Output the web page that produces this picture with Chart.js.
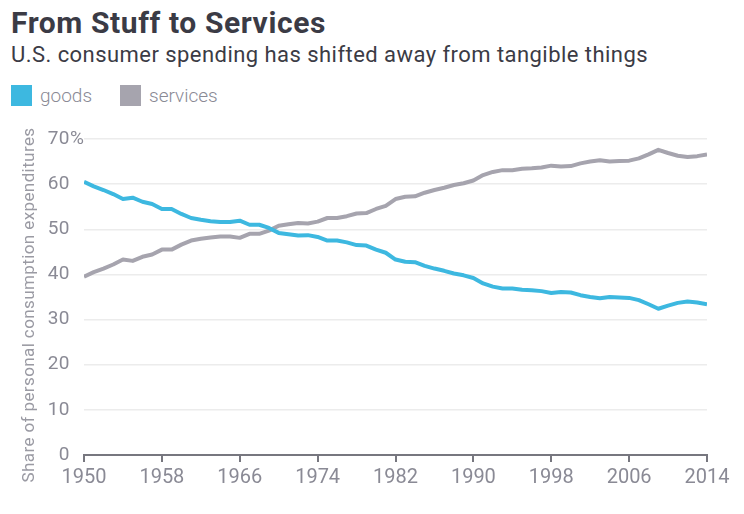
<!DOCTYPE html>
<html>
<head>
<meta charset="utf-8">
<script src="https://cdn.jsdelivr.net/npm/chart.js@4"></script>
<style>
    html, body { margin: 0; padding: 0; background: #fff; }
    body { width: 744px; height: 514px; position: relative; overflow: hidden; font-family: Roboto, "Open Sans", sans-serif; }
    #title { position: absolute; left: 11px; top: 5px; font-size: 30px; font-weight: 700; color: #3b3b45; white-space: nowrap; letter-spacing: 0.6px; }
    #subtitle { position: absolute; left: 11px; top: 42px; font-size: 22px; color: #3b3b45; white-space: nowrap; letter-spacing: 0.45px; }
    #legend { position: absolute; left: 11px; top: 84px; font-size: 19px; color: #8a8a95; font-weight: 300; }
    .item { display: inline-flex; align-items: center; margin-right: 28px; }
    .swatch { width: 21px; height: 21px; display: inline-block; margin-right: 8px; }
    #wrap { position: absolute; left: 0; top: 0; width: 744px; height: 514px; }
</style>
</head>
<body>
<div id="title">From Stuff to Services</div>
<div id="subtitle">U.S. consumer spending has shifted away from tangible things</div>
<div id="legend"></div>
<div id="wrap"><canvas id="chart" width="744" height="514"></canvas></div>
<script>
// Years on the x axis
const years = [];
for (let y = 1950; y <= 2014; y++) years.push(y);

// Share of personal consumption expenditures (%)
const goods = [
    60.5, 59.5, 58.7, 57.8, 56.7, 57.0, 56.1, 55.6, 54.5, 54.5,
    53.4, 52.5, 52.1, 51.8, 51.6, 51.6, 51.9, 51.0, 51.0, 50.3,
    49.2, 48.9, 48.6, 48.7, 48.3, 47.5, 47.5, 47.1, 46.5, 46.4,
    45.5, 44.8, 43.3, 42.8, 42.7, 41.9, 41.3, 40.8, 40.2, 39.8,
    39.2, 38.0, 37.3, 36.9, 36.9, 36.6, 36.5, 36.3, 35.9, 36.1,
    36.0, 35.4, 35.0, 34.7, 35.0, 34.9, 34.8, 34.3, 33.4, 32.4,
    33.1, 33.7, 34.0, 33.8, 33.4
];
const services = [
    39.5, 40.5, 41.3, 42.2, 43.3, 43.0, 43.9, 44.4, 45.5, 45.5,
    46.6, 47.5, 47.9, 48.2, 48.4, 48.4, 48.1, 49.0, 49.0, 49.7,
    50.8, 51.1, 51.4, 51.3, 51.7, 52.5, 52.5, 52.9, 53.5, 53.6,
    54.5, 55.2, 56.7, 57.2, 57.3, 58.1, 58.7, 59.2, 59.8, 60.2,
    60.8, 62.0, 62.7, 63.1, 63.1, 63.4, 63.5, 63.7, 64.1, 63.9,
    64.0, 64.6, 65.0, 65.3, 65.0, 65.1, 65.2, 65.7, 66.6, 67.6,
    66.9, 66.3, 66.0, 66.2, 66.6
];

// Axis ticks
const xTicks = [1950, 1958, 1966, 1974, 1982, 1990, 1998, 2006, 2014];
const yTicks = [0, 10, 20, 30, 40, 50, 60, 70];
const yTitle = 'Share of personal consumption expenditures';

const seriesNames = ['goods', 'services'];
const seriesColors = ['#3db8e0', '#a6a4ae'];
const tickColor = '#8a8a95';
const tickFont = '400 19px Roboto, "Open Sans", sans-serif';

// HTML legend
const legend = document.getElementById('legend');
seriesNames.forEach((name, i) => {
    const item = document.createElement('span');
    item.className = 'item';
    const sw = document.createElement('span');
    sw.className = 'swatch';
    sw.style.background = seriesColors[i];
    item.appendChild(sw);
    item.appendChild(document.createTextNode(name));
    legend.appendChild(item);
});

// Draws the y tick labels (with the % overhanging on the top one) and the y title
const yLabelsPlugin = {
    id: 'yLabels',
    afterDraw(chart) {
        const ctx = chart.ctx;
        const y = chart.scales.y;
        ctx.save();
        ctx.font = tickFont;
        ctx.fillStyle = tickColor;
        ctx.textBaseline = 'middle';
        ctx.letterSpacing = '0.5px';
        yTicks.forEach(v => {
            const py = y.getPixelForValue(v);
            ctx.textAlign = 'right';
            ctx.fillText(String(v), 70, py);
            if (v === yTicks[yTicks.length - 1]) {
                ctx.textAlign = 'left';
                ctx.fillText('%', 70, py);
            }
        });
        ctx.translate(30, 305);
        ctx.rotate(-Math.PI / 2);
        ctx.textAlign = 'center';
        ctx.font = '400 17px Roboto, "Open Sans", sans-serif';
        ctx.letterSpacing = '0.4px';
        ctx.fillStyle = '#9a9aa3';
        ctx.fillText(yTitle, 0, 0);
        ctx.restore();
    }
};

new Chart(document.getElementById('chart'), {
    type: 'line',
    data: {
        datasets: [
            { label: seriesNames[0], data: years.map((yr, i) => ({ x: yr, y: goods[i] })), borderColor: seriesColors[0] },
            { label: seriesNames[1], data: years.map((yr, i) => ({ x: yr, y: services[i] })), borderColor: seriesColors[1] }
        ].map(d => Object.assign(d, { borderWidth: 4, pointRadius: 0, tension: 0, fill: false, borderJoinStyle: 'round' }))
    },
    options: {
        responsive: false,
        animation: false,
        layout: { padding: { top: 139, right: 37, left: 0, bottom: 0 } },
        plugins: { legend: { display: false }, tooltip: { enabled: false } },
        scales: {
            x: {
                type: 'linear',
                min: 1950,
                max: 2014,
                afterBuildTicks: s => { s.ticks = xTicks.map(v => ({ value: v })); },
                afterFit: s => { s.height = 59; },
                grid: { drawOnChartArea: false, drawTicks: true, tickLength: 7, color: '#77777f', lineWidth: 2 },
                border: { display: true, color: '#77777f', width: 2 },
                ticks: { color: tickColor, font: { family: 'Roboto, "Open Sans", sans-serif', size: 20, weight: 400 }, padding: 4, maxRotation: 0, callback: v => String(v) }
            },
            y: {
                min: 0,
                max: 70,
                afterBuildTicks: s => { s.ticks = yTicks.map(v => ({ value: v })); },
                afterFit: s => { s.width = 84; },
                grid: { color: '#ececec', lineWidth: 1.5, drawTicks: false },
                border: { display: false },
                ticks: { display: false }
            }
        }
    },
    plugins: [yLabelsPlugin]
});
</script>
</body>
</html>
